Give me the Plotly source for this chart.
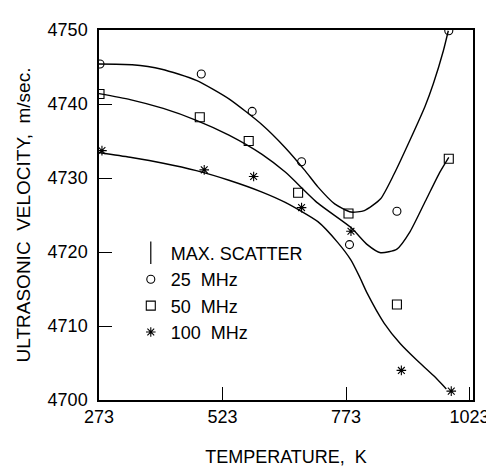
import plotly.graph_objects as go

FONT = "Liberation Sans, Arial, sans-serif"

# measured points
t_25 = [275, 480, 583, 683, 780, 876, 981]
v_25 = [4745.4, 4744.05, 4739.0, 4732.2, 4721.0, 4725.5, 4749.9]
t_50 = [274, 477, 576, 676, 778, 876, 981]
v_50 = [4741.35, 4738.2, 4735.0, 4728.0, 4725.2, 4712.9, 4732.6]
t_100 = [279, 486, 586, 683, 783, 885, 986]
v_100 = [4733.7, 4731.1, 4730.2, 4726.0, 4722.8, 4704.0, 4701.2]

# fitted curves
ct_25 = [273, 340, 400, 470, 536, 603, 650, 690, 716, 750, 783, 810, 843, 870, 903, 933, 950, 970, 980]
cv_25 = [4745.4, 4745.3, 4744.7, 4743.2, 4740.7, 4737.2, 4734.1, 4731.0, 4728.8, 4726.5,
         4725.4, 4725.6, 4727.2, 4730.5, 4735.2, 4739.7, 4742.8, 4747.2, 4749.9]
ct_50 = [273, 336, 403, 470, 536, 603, 650, 716, 783, 816, 843, 876, 903, 936, 963, 981]
cv_50 = [4741.4, 4740.6, 4739.4, 4737.8, 4735.8, 4733.2, 4730.8, 4726.6, 4723.3, 4721.0,
         4719.9, 4720.4, 4722.8, 4727.2, 4730.8, 4732.8]
ct_100 = [273, 336, 403, 470, 536, 603, 650, 716, 756, 783, 800, 816, 850, 883, 916, 950, 976]
cv_100 = [4733.45, 4732.8, 4732.0, 4731.0, 4729.7, 4728.1, 4726.7, 4724.1, 4721.3, 4718.9,
          4716.7, 4714.4, 4710.4, 4707.6, 4705.4, 4703.3, 4701.5]

x_ticks = [273, 523, 773, 1023]
y_ticks = [4700, 4710, 4720, 4730, 4740, 4750]

fig = go.Figure()

for ct, cv in [(ct_25, cv_25), (ct_50, cv_50), (ct_100, cv_100)]:
    fig.add_trace(go.Scatter(x=ct, y=cv, mode="lines",
                             line=dict(color="black", width=1.4, shape="spline", smoothing=0.6),
                             showlegend=False, hoverinfo="skip"))

fig.add_trace(go.Scatter(x=[None], y=[None], mode="markers", name="MAX. SCATTER",
                         marker=dict(symbol="line-ns-open", size=16, color="black", line=dict(width=1.2, color="black"))))
fig.add_trace(go.Scatter(x=t_25, y=v_25, mode="markers", name="25  MHz",
                         marker=dict(symbol="circle-open", size=8, color="black", line=dict(width=1.1))))
fig.add_trace(go.Scatter(x=t_50, y=v_50, mode="markers", name="50  MHz",
                         marker=dict(symbol="square-open", size=9, color="black", line=dict(width=1.1))))
fig.add_trace(go.Scatter(x=t_100, y=v_100, mode="markers", name="100  MHz",
                         marker=dict(symbol="asterisk-open", size=8, color="black", line=dict(width=1.1))))

tick_font = dict(family=FONT, size=18, color="black")
axis_common = dict(showline=True, linecolor="black", linewidth=1.5, mirror=True, ticks="inside",
                   ticklen=13, tickwidth=1.3, tickcolor="black", showgrid=False, zeroline=False,
                   tickfont=tick_font)

fig.update_xaxes(range=[273, 1030], tickvals=x_ticks, ticktext=[str(v) for v in x_ticks],
                 title=dict(text="TEMPERATURE,  K", font=dict(family=FONT, size=18, color="black"), standoff=24),
                 **axis_common)
fig.update_yaxes(range=[4700, 4750], tickvals=y_ticks, ticktext=[str(v) for v in y_ticks],
                 ticklabelstandoff=6,
                 title=dict(text="ULTRASONIC  VELOCITY,  m/sec.", font=dict(family=FONT, size=19, color="black"), standoff=12),
                 **axis_common)

fig.update_layout(
    width=494, height=468,
    margin=dict(l=91, r=24, t=22, b=69),
    paper_bgcolor="white", plot_bgcolor="white",
    font=dict(family=FONT, size=18, color="black"),
    legend=dict(x=0.085, y=0.447, xanchor="left", yanchor="top", bgcolor="rgba(0,0,0,0)",
                font=dict(family=FONT, size=18, color="black"), itemsizing="trace"),
)

fig.write_html("out.html")
